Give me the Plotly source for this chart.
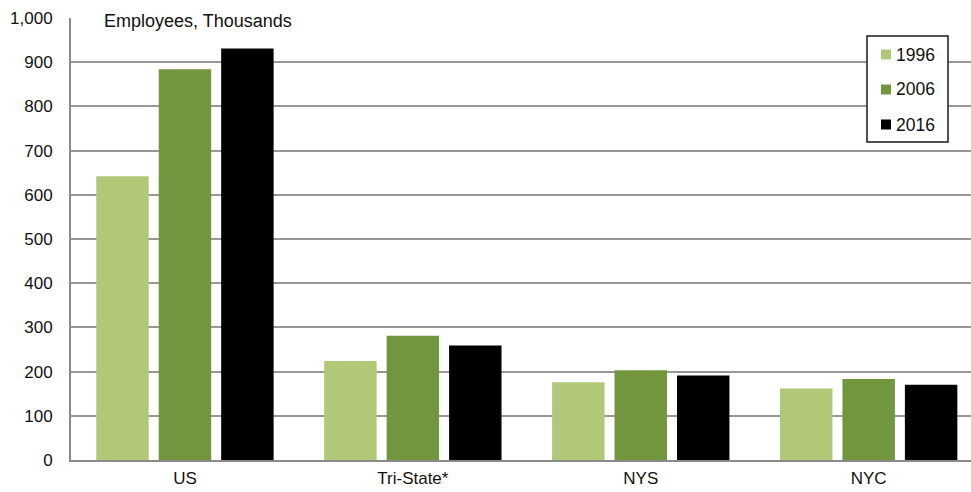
import plotly.graph_objects as go

# Employment by region, thousands
regions = ["US", "Tri-State*", "NYS", "NYC"]
years = ["1996", "2006", "2016"]
emp_1996 = [642, 224, 176, 162]
emp_2006 = [884, 281, 203, 183]
emp_2016 = [931, 259, 191, 170]
series = [emp_1996, emp_2006, emp_2016]
colors = ["#B0C878", "#71963E", "#000000"]

FONT = "Liberation Sans, Arial, sans-serif"
TXT = "#111111"

# plot area in pixels (used to place the key and header in paper units)
L, T, B, W, H = 71, 18, 32, 971, 492
PW, PH = W - L, H - T - B


def px_x(x):
    return (x - L) / PW


def px_y(y):
    return (H - B - y) / PH


fig = go.Figure()
for yr, vals, col in zip(years, series, colors):
    fig.add_trace(go.Bar(
        x=regions, y=vals, name=yr,
        marker=dict(color=col, line=dict(width=0)),
    ))

shapes = [
    # white band behind the header text on the top gridline
    dict(type="rect", xref="paper", yref="paper",
         x0=px_x(87), x1=px_x(338), y0=px_y(28), y1=px_y(10),
         fillcolor="white", line=dict(width=0), layer="above"),
    # key frame
    dict(type="rect", xref="paper", yref="paper",
         x0=px_x(867), x1=px_x(948), y0=px_y(142), y1=px_y(36),
         fillcolor="white", line=dict(color="#1a1a1a", width=1.5),
         layer="above"),
]
annotations = [
    dict(text="Employees, Thousands", xref="paper", yref="paper",
         x=px_x(102), y=px_y(21), xanchor="left", yanchor="middle",
         showarrow=False, font=dict(family=FONT, size=18, color=TXT)),
]

# key entries
for i, (yr, col) in enumerate(zip(years, colors)):
    cy = 54.5 + 35 * i
    shapes.append(dict(type="rect", xref="paper", yref="paper",
                       x0=px_x(881), x1=px_x(891),
                       y0=px_y(cy + 5), y1=px_y(cy - 5),
                       fillcolor=col, line=dict(width=0), layer="above"))
    annotations.append(dict(text=yr, xref="paper", yref="paper",
                            x=px_x(894), y=px_y(cy), xanchor="left",
                            yanchor="middle", showarrow=False,
                            font=dict(family=FONT, size=17.5, color=TXT)))

fig.update_layout(
    width=W, height=H,
    margin=dict(l=L, r=0, t=T, b=B),
    paper_bgcolor="white", plot_bgcolor="white",
    barmode="group", bargap=0.178, bargroupgap=0.16,
    font=dict(family=FONT, size=17, color=TXT),
    showlegend=False,
    xaxis=dict(
        range=[-0.5, 3.449], showgrid=False, ticks="",
        showline=True, linecolor="#8a8a8a", linewidth=2,
        ticklabelstandoff=2,
        tickfont=dict(family=FONT, size=17, color=TXT),
        fixedrange=True,
    ),
    yaxis=dict(
        range=[0, 1000], dtick=100, tickformat=",",
        showgrid=True, gridcolor="#989898", gridwidth=1.5,
        showline=True, linecolor="#8a8a8a", linewidth=2,
        zeroline=False, ticks="", ticklabelstandoff=13,
        tickfont=dict(family=FONT, size=17, color=TXT),
        fixedrange=True,
    ),
    shapes=shapes,
    annotations=annotations,
)

fig.write_html("out.html")
